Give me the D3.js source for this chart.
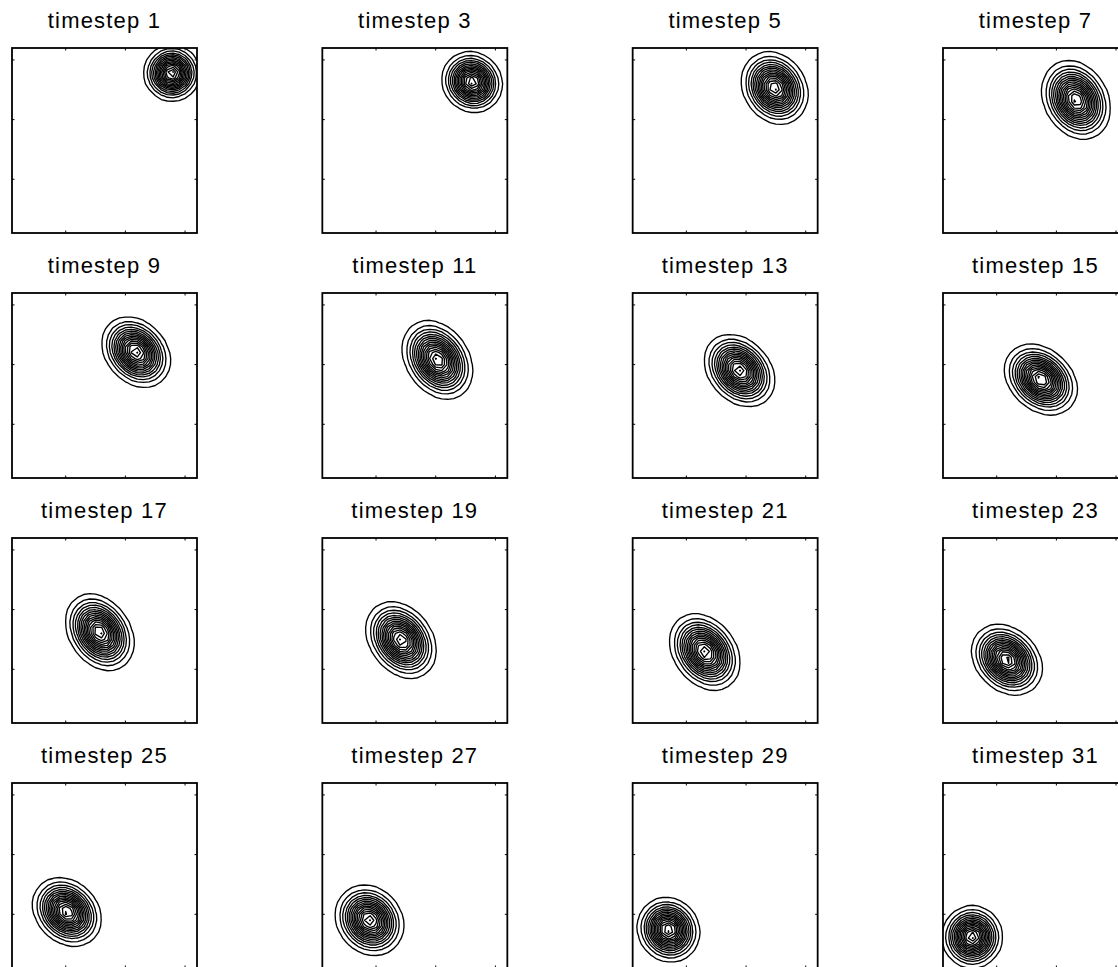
<!DOCTYPE html>
<html>
<head>
<meta charset="utf-8">
<script src="https://cdn.jsdelivr.net/npm/d3@7"></script>
<style>
body{margin:0;background:#fff;}
text{font-family:"Liberation Sans",Arial,Helvetica,sans-serif;}
</style>
</head>
<body>
<div id="chart"></div>
<script>
// one panel per timestep shown
var steps=[1,3,5,7,9,11,13,15,17,19,21,23,25,27,29,31];
// blob centre in grid units (grid runs 1..32)
var centerX=[27.8,26.1,24.8,23.3,21.8,20.3,18.9,17.4,15.7,14.2,13.1,11.7,10.2,8.9,7.0,5.9];
var centerY=[27.8,26.3,25.3,23.3,22.1,20.8,19.0,17.5,16.2,14.9,12.9,11.6,10.4,9.0,7.4,6.2];
// spread in x and y (grid units) and the x-y correlation
var sigmaX=[1.99,2.14,2.35,2.42,2.42,2.49,2.49,2.56,2.42,2.49,2.49,2.49,2.42,2.42,2.21,2.14];
var sigmaY=[1.99,2.14,2.56,2.78,2.49,2.78,2.56,2.49,2.71,2.71,2.71,2.49,2.42,2.49,2.28,2.21];
var rho=[0,-0.08,-0.18,-0.22,-0.25,-0.28,-0.28,-0.28,-0.28,-0.28,-0.28,-0.25,-0.22,-0.15,-0.08,0];
var tickVals=[10,20,30];

var width=1118, height=967;
var gridN=32, nLevels=16; // levels split 0..max into 16, top one sits on the peak
var size=185, left0=12, top0=48, colStep=310.33, rowStep=245;

var svg=d3.select("#chart").append("svg")
	.attr("width",width).attr("height",height)
	.style("display","block");

var x=d3.scaleLinear().domain([1,gridN]).range([0,size]);
var y=d3.scaleLinear().domain([1,gridN]).range([size,0]);

// d3.contours puts value i at coordinate i+0.5, the grid value is at i+1
var proj=d3.geoTransform({
	point:function(px,py){ this.stream.point(x(px+0.5),y(py+0.5)); }
});
var path=d3.geoPath(proj);

var contourGen=d3.contours().size([gridN,gridN]);

steps.forEach(function(s,i){
	var col=i%4, row=Math.floor(i/4);
	var g=svg.append("g")
		.attr("transform","translate("+(left0+col*colStep)+","+(top0+row*rowStep)+")");

	// field on the grid
	var vals=new Array(gridN*gridN);
	var sx=sigmaX[i], sy=sigmaY[i], r=rho[i];
	for(var j=0;j<gridN;j++){
		for(var k=0;k<gridN;k++){
			var dx=(k+1-centerX[i])/sx, dy=(j+1-centerY[i])/sy;
			vals[j*gridN+k]=Math.exp(-0.5/(1-r*r)*(dx*dx-2*r*dx*dy+dy*dy));
		}
	}
	var vmax=d3.max(vals);
	var levels=d3.range(1,nLevels+1).map(function(n){return vmax*n/nLevels;});
	levels[nLevels-1]=vmax*0.995; // peak level -> a dot

	g.append("clipPath").attr("id","clip"+i)
		.append("rect").attr("width",size).attr("height",size);

	g.append("g").attr("clip-path","url(#clip"+i+")")
		.selectAll("path")
		.data(contourGen.thresholds(levels)(vals))
		.enter().append("path")
		.attr("d",path)
		.attr("fill","none")
		.attr("stroke","#000")
		.attr("stroke-width",1.35)
		.attr("stroke-linejoin","round");

	// inward ticks on all four sides, no labels
	var tl=2.5;
	tickVals.forEach(function(t){
		g.append("line").attr("x1",x(t)).attr("x2",x(t)).attr("y1",size).attr("y2",size-tl);
		g.append("line").attr("x1",x(t)).attr("x2",x(t)).attr("y1",0).attr("y2",tl);
		g.append("line").attr("y1",y(t)).attr("y2",y(t)).attr("x1",0).attr("x2",tl);
		g.append("line").attr("y1",y(t)).attr("y2",y(t)).attr("x1",size).attr("x2",size-tl);
	});
	g.selectAll("line").attr("stroke","#000").attr("stroke-width",1);

	g.append("rect").attr("width",size).attr("height",size)
		.attr("fill","none").attr("stroke","#000").attr("stroke-width",1.8);

	g.append("text")
		.attr("x",size/2).attr("y",-20.5)
		.attr("text-anchor","middle")
		.style("font-size","22px")
		.style("letter-spacing","1.2px")
		.text("timestep "+s);
});
</script>
</body>
</html>
